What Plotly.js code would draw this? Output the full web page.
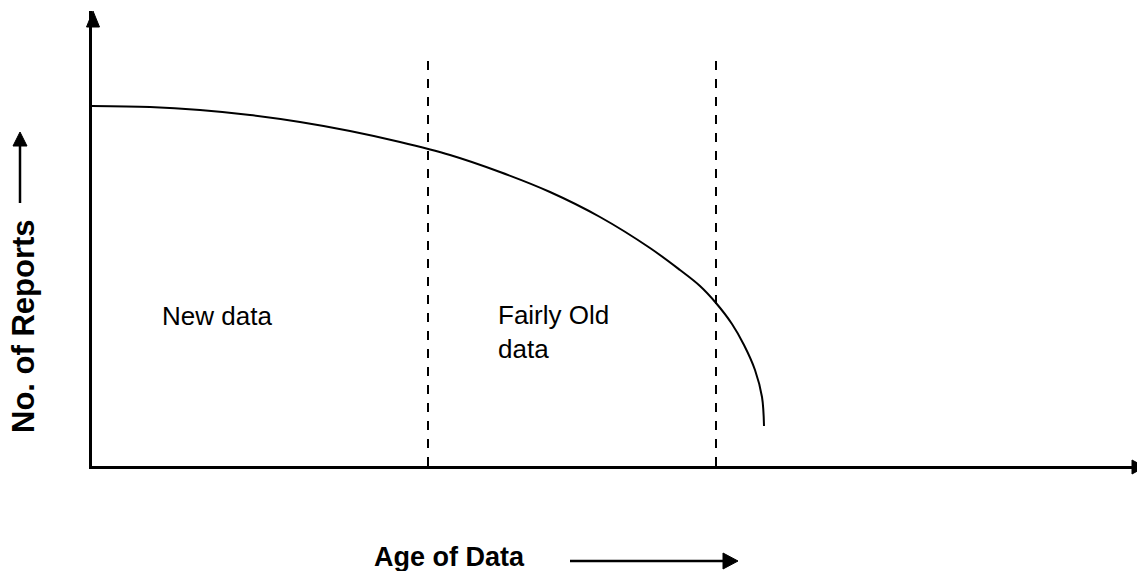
<!DOCTYPE html>
<html>
<head>
<meta charset="utf-8">
<script src="https://cdn.plot.ly/plotly-3.0.1.min.js"></script>
<style>html,body{margin:0;padding:0;background:#fff;}#chart{width:1137px;height:571px;}</style>
</head>
<body>
<div id="chart"></div>
<script>
// Curve (x = age, y = number of reports, arbitrary units)
const ageValues = [0, 58, 108, 158, 208, 258, 308, 358, 408, 458, 508, 558, 588, 608, 624, 640, 652, 663, 670, 672];
const reportValues = [360, 359, 356, 351, 344, 335, 324, 311, 294, 274, 249, 218, 196, 180, 163, 142, 121, 96, 69, 40];
const dividerAges = [336, 624];
const regionLabels = ["New data", "Fairly Old<br>data"];
const regionLabelAges = [68, 404];
const regionLabelHeights = [150, 134];
const xTitle = "Age of Data";
const yTitle = "No. of Reports";

const W = 1137, H = 571, L = 92, T = 11, R = 0, B = 105;
const pw = W - L - R, ph = H - T - B;
const PX = p => (p - L) / pw;
const PY = p => (H - B - p) / ph;
const font = "Liberation Sans, Arial, sans-serif";

const shapes = [];
dividerAges.forEach(a => shapes.push({
  type: "line", xref: "x", yref: "y", x0: a, x1: a, y0: 0, y1: 408,
  line: {color: "#000", width: 2, dash: "dash"}
}));
function tri(tx, ty, dir, len, half) {
  let p;
  if (dir === "up") p = `M${PX(tx)},${PY(ty)} L${PX(tx-half)},${PY(ty+len)} L${PX(tx+half)},${PY(ty+len)} Z`;
  else p = `M${PX(tx)},${PY(ty)} L${PX(tx-len)},${PY(ty-half)} L${PX(tx-len)},${PY(ty+half)} Z`;
  return {type: "path", xref: "paper", yref: "paper", path: p, fillcolor: "#000", line: {color: "#000", width: 1}};
}
shapes.push(tri(93, 11, "up", 16, 6.5));
shapes.push(tri(1145, 467, "right", 13, 7));
shapes.push({type: "line", xref: "paper", yref: "paper", x0: PX(20), x1: PX(20), y0: PY(203), y1: PY(142),
  line: {color: "#000", width: 2.5}});
shapes.push(tri(20, 132, "up", 14, 7));
shapes.push({type: "line", xref: "paper", yref: "paper", x0: PX(570), x1: PX(726), y0: PY(561), y1: PY(561),
  line: {color: "#000", width: 2.5}});
shapes.push(tri(738, 561, "right", 15, 8));

const annotations = regionLabels.map((t, i) => ({
  x: regionLabelAges[i], y: regionLabelHeights[i], xref: "x", yref: "y", text: t,
  showarrow: false, xanchor: "left", yanchor: "middle", align: "left",
  font: {family: font, size: 26, color: "#000"}
}));
annotations.push({x: PX(449), y: PY(557), xref: "paper", yref: "paper", text: "<b>" + xTitle + "</b>",
  showarrow: false, xanchor: "center", yanchor: "middle", font: {family: font, size: 27, color: "#000"}});
annotations.push({x: PX(23), y: PY(326), xref: "paper", yref: "paper", text: "<b>" + yTitle + "</b>",
  showarrow: false, textangle: -90, xanchor: "center", yanchor: "middle", font: {family: font, size: 31, color: "#000"}});

const trace = {x: ageValues, y: reportValues, type: "scatter", mode: "lines",
  line: {color: "#000", width: 2, shape: "spline", smoothing: 1}, hoverinfo: "skip"};

const layout = {
  width: W, height: H, margin: {l: L, r: R, t: T, b: B},
  paper_bgcolor: "#fff", plot_bgcolor: "#fff", showlegend: false,
  xaxis: {range: [0, pw], showgrid: false, zeroline: false, showticklabels: false, ticks: "",
    showline: true, linecolor: "#000", linewidth: 3, fixedrange: true},
  yaxis: {range: [0, ph], showgrid: false, zeroline: false, showticklabels: false, ticks: "",
    showline: true, linecolor: "#000", linewidth: 3, fixedrange: true},
  shapes: shapes, annotations: annotations
};
Plotly.newPlot("chart", [trace], layout, {displayModeBar: false, staticPlot: true});
</script>
</body>
</html>
